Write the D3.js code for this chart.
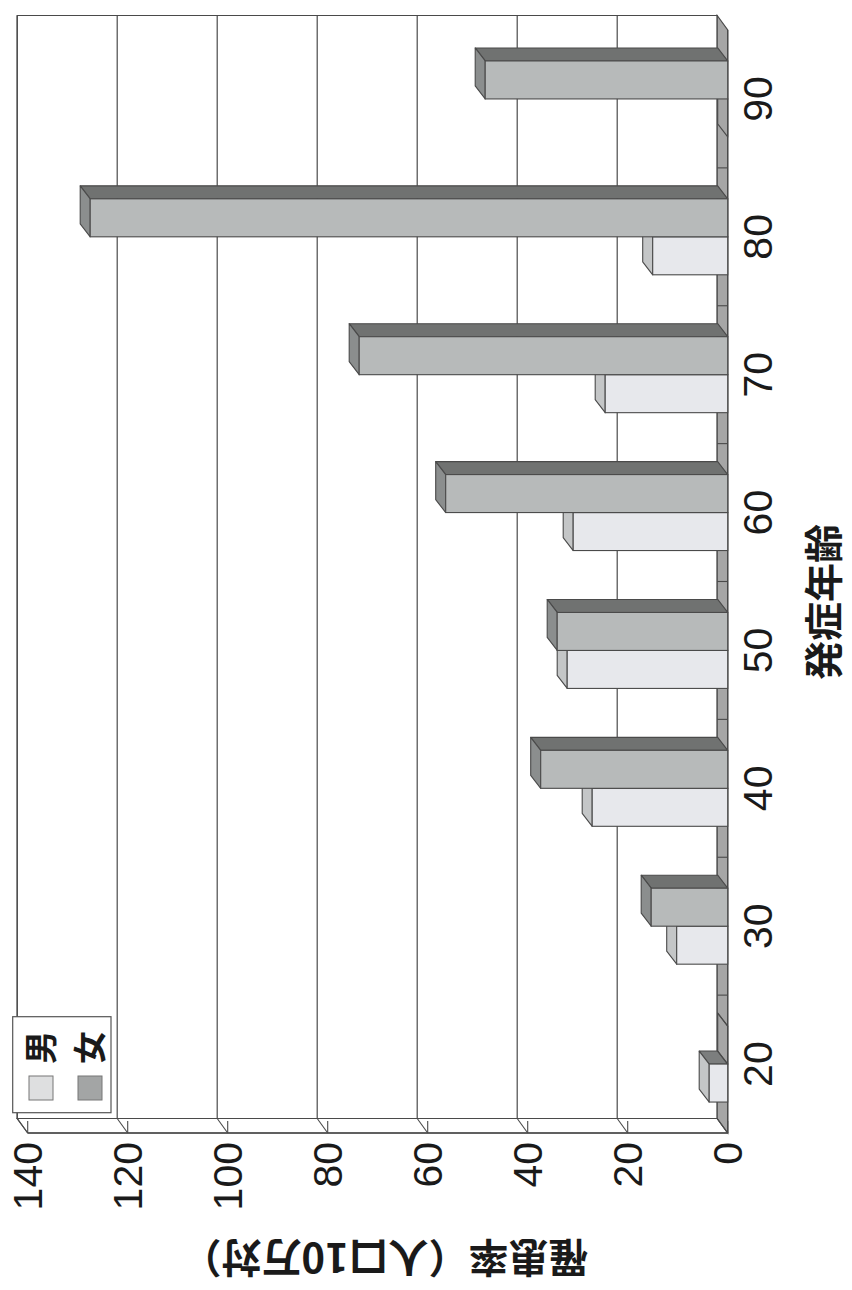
<!DOCTYPE html>
<html>
<head>
<meta charset="utf-8">
<script src="https://cdn.jsdelivr.net/npm/d3@7"></script>
<style>
  html, body { margin: 0; padding: 0; background: #ffffff; }
  svg { display: block; }
</style>
</head>
<body>
<svg id="chart" width="852" height="1290"></svg>
<script>
// 発症年齢別 罹患率（人口10万対）
const categories = ["20", "30", "40", "50", "60", "70", "80", "90"];
const seriesNames = ["男", "女"];
const maleValues   = [3.7, 10.2, 27.1, 32.1, 30.9, 24.5, 15.0, 0];
const femaleValues = [0, 15.3, 37.4, 34.1, 56.4, 73.7, 127.5, 48.5];
const valueTicks = [0, 20, 40, 60, 80, 100, 120, 140];

const W = 852, H = 1290;
// The chart is laid out as an upright column chart (1290 wide, 852 tall)
// and then turned a quarter turn counter‑clockwise onto the page.
const svg = d3.select("#chart");
const g = svg.append("g").attr("transform", `translate(0,${H}) rotate(-90)`);

const plot = { left: 157, right: 1260 };
const x = d3.scaleBand().domain(categories).range([plot.left, plot.right]).padding(0);
const y = d3.scaleLinear().domain([0, 140]).range([727.7, 27.7]);
const bw = x.bandwidth();
const x1 = d3.scaleBand().domain(seriesNames).range([bw * 0.2245, bw * 0.7755]).padding(0);

// depth of the 3‑D box (towards the back wall) and of each bar
const D = { dx: 14.5, dy: -10.5 };
const B = { dx: 13, dy: -10 };

const stroke = "#4a4a4a";

// side wall (left)
const y0 = y(0), yTop = y(140);
g.append("polygon")
  .attr("points", [[plot.left, yTop], [plot.left + D.dx, yTop + D.dy], [plot.left + D.dx, y0 + D.dy], [plot.left, y0]].join(" "))
  .attr("fill", "#ffffff").attr("stroke", stroke).attr("stroke-width", 1.2);

// back wall
g.append("polygon")
  .attr("points", [[plot.left + D.dx, yTop + D.dy], [plot.right + D.dx, yTop + D.dy], [plot.right + D.dx, y0 + D.dy], [plot.left + D.dx, y0 + D.dy]].join(" "))
  .attr("fill", "#ffffff").attr("stroke", stroke).attr("stroke-width", 1.2);

// floor
g.append("polygon")
  .attr("points", [[plot.left, y0], [plot.right, y0], [plot.right + D.dx, y0 + D.dy], [plot.left + D.dx, y0 + D.dy]].join(" "))
  .attr("fill", "#a6a6a6").attr("stroke", stroke).attr("stroke-width", 1.2);

// gridlines on back wall and their depth lines on the side wall
valueTicks.forEach(v => {
  const yy = y(v);
  if (v > 0) {
    g.append("line")
      .attr("x1", plot.left + D.dx).attr("x2", plot.right + D.dx)
      .attr("y1", yy + D.dy).attr("y2", yy + D.dy)
      .attr("stroke", stroke).attr("stroke-width", 1.2);
  }
  g.append("line")
    .attr("x1", plot.left).attr("x2", plot.left + D.dx)
    .attr("y1", yy).attr("y2", yy + D.dy)
    .attr("stroke", stroke).attr("stroke-width", 1.1);
  g.append("line")
    .attr("x1", plot.left).attr("x2", plot.left + 12)
    .attr("y1", yy).attr("y2", yy)
    .attr("stroke", stroke).attr("stroke-width", 1.1);
});

// category ticks across the floor
categories.slice(1).forEach(c => {
  const xx = x(c);
  g.append("line")
    .attr("x1", xx).attr("x2", xx)
    .attr("y1", y0 + D.dy).attr("y2", y0)
    .attr("stroke", stroke).attr("stroke-width", 1.1);
});

// value axis line
g.append("line")
  .attr("x1", plot.left).attr("x2", plot.left)
  .attr("y1", yTop).attr("y2", y0)
  .attr("stroke", stroke).attr("stroke-width", 1.3);
g.append("line")
  .attr("x1", plot.left).attr("x2", plot.right)
  .attr("y1", y0).attr("y2", y0)
  .attr("stroke", stroke).attr("stroke-width", 1.3);

// bars
const palette = {
  "男": { front: "#e7e8ec", top: "#c4c6c7", side: "#7c7e7e" },
  "女": { front: "#b7baba", top: "#8b8e8e", side: "#707271" }
};
const rows = categories.map((c, i) => ({ c, "男": maleValues[i], "女": femaleValues[i] }));

rows.forEach(r => {
  seriesNames.forEach(s => {
    const v = r[s];
    const bx = x(r.c) + x1(s);
    const w = x1.bandwidth();
    const yt = y(v);
    const col = palette[s];
    const bar = g.append("g").attr("class", "bar");
    // right side face
    bar.append("polygon")
      .attr("points", [[bx + w, yt], [bx + w + B.dx, yt + B.dy], [bx + w + B.dx, y0 + B.dy], [bx + w, y0]].join(" "))
      .attr("fill", col.side).attr("stroke", stroke).attr("stroke-width", 1.1).attr("stroke-linejoin", "round");
    // top face (a zero bar only leaves its outline on the floor)
    bar.append("polygon")
      .attr("points", [[bx, yt], [bx + B.dx, yt + B.dy], [bx + w + B.dx, yt + B.dy], [bx + w, yt]].join(" "))
      .attr("fill", v > 0 ? col.top : "none").attr("stroke", stroke).attr("stroke-width", 1.1).attr("stroke-linejoin", "round");
    // front face
    if (v > 0) {
      bar.append("rect")
        .attr("x", bx).attr("y", yt).attr("width", w).attr("height", y0 - yt)
        .attr("fill", col.front).attr("stroke", stroke).attr("stroke-width", 1.1);
    }
  });
});

// value labels
const numFont = "'Liberation Sans', Arial, sans-serif";
g.append("g").selectAll("text").data(valueTicks).join("text")
  .attr("x", 148).attr("y", d => y(d))
  .attr("dy", "0.36em")
  .attr("text-anchor", "end")
  .attr("font-family", numFont).attr("font-size", 41).attr("fill", "#1a1a1a")
  .text(d => d);

// category labels
g.append("g").selectAll("text").data(categories).join("text")
  .attr("x", d => x(d) + bw / 2).attr("y", 772)
  .attr("text-anchor", "middle")
  .attr("font-family", numFont).attr("font-size", 41).attr("fill", "#1a1a1a")
  .text(d => d);

// axis titles
const jpFont = "'Noto Sans CJK JP', 'Noto Sans CJK SC', sans-serif";
g.append("text")
  .attr("x", 688).attr("y", 838)
  .attr("text-anchor", "middle")
  .attr("font-family", jpFont).attr("font-size", 39).attr("font-weight", "bold").attr("fill", "#1a1a1a")
  .text("発症年齢");

g.append("text")
  .attr("transform", `translate(47,385) rotate(-90)`)
  .attr("text-anchor", "middle")
  .attr("font-family", jpFont).attr("font-size", 40).attr("font-weight", "bold").attr("fill", "#1a1a1a")
  .text("罹患率（人口10万対）");

// legend
const lg = g.append("g");
lg.append("rect")
  .attr("x", 177.3).attr("y", 12.7).attr("width", 96).attr("height", 98.3)
  .attr("fill", "#ffffff").attr("stroke", "#555").attr("stroke-width", 1.2);
const legendFill = { "男": "#dedfe0", "女": "#a3a5a5" };
seriesNames.forEach((s, i) => {
  const cy = 41 + i * 49;
  lg.append("rect")
    .attr("x", 190).attr("y", cy - 12).attr("width", 24).attr("height", 24)
    .attr("fill", legendFill[s]).attr("stroke", "#777").attr("stroke-width", 1);
  lg.append("text")
    .attr("x", 226).attr("y", cy).attr("dy", "0.36em")
    .attr("font-family", jpFont).attr("font-size", 33).attr("font-weight", "bold").attr("fill", "#1a1a1a")
    .text(s);
});
</script>
</body>
</html>
